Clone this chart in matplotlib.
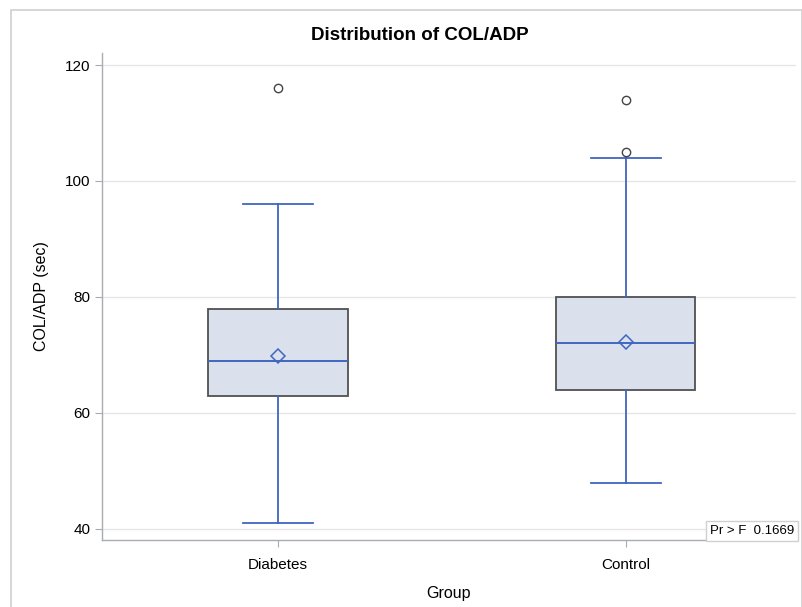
import matplotlib
matplotlib.use("Agg")
import matplotlib.pyplot as plt
from matplotlib.patches import Rectangle

plt.rcParams['font.family'] = ['Liberation Sans', 'DejaVu Sans']

groups = ["Diabetes", "Control"]
whislo = [41, 48]
q1 = [63, 64]
med = [69, 72]
mean = [69.9, 72.3]
q3 = [78, 80]
whishi = [96, 104]
fliers = [[116], [105, 114]]
p_value = "0.1669"

blue = "#3F66C2"
fig = plt.figure(figsize=(8.03, 6.07), dpi=100)
fig.patches.append(Rectangle((11.5/803, -0.1), (802-11.5)/803, 1.1 - 10/607,
                             transform=fig.transFigure, fill=False,
                             edgecolor="#D0D0D0", linewidth=1.2))
ax = fig.add_axes([102/803, 1-540/607, 694/803, (540-53)/607])

stats = []
for i, g in enumerate(groups):
    stats.append(dict(label=g, whislo=whislo[i], q1=q1[i], med=med[i], mean=mean[i],
                      q3=q3[i], whishi=whishi[i], fliers=fliers[i]))

ax.bxp(stats, positions=[0, 1], widths=0.40, showmeans=True, patch_artist=True,
       boxprops=dict(facecolor="#DAE1EC", edgecolor="#505050", linewidth=1.3),
       medianprops=dict(color=blue, linewidth=1.4),
       whiskerprops=dict(color=blue, linewidth=1.3),
       capprops=dict(color=blue, linewidth=1.3),
       capwidths=0.20,
       meanprops=dict(marker="D", markerfacecolor="none", markeredgecolor=blue,
                      markersize=7.5, markeredgewidth=1.1),
       flierprops=dict(marker="o", markerfacecolor="none", markeredgecolor="#444444",
                       markersize=6, markeredgewidth=1.0),
       zorder=3)

ax.set_xlim(-0.506, 1.489)
ax.set_ylim(38.1, 122.07)
ax.set_yticks([40, 60, 80, 100, 120])
ax.yaxis.grid(True, color="#E6E6E6", linewidth=1.0, zorder=0)
ax.set_axisbelow(True)
for s in ["top", "right"]:
    ax.spines[s].set_visible(False)
for s in ["left", "bottom"]:
    ax.spines[s].set_color("#A8ACB0")
    ax.spines[s].set_linewidth(1.0)
ax.tick_params(axis="both", colors="#A8ACB0", labelcolor="black", labelsize=11, length=5)
ax.tick_params(axis="x", pad=8)
ax.set_xticks([0, 1])
ax.set_xticklabels(groups)
ax.set_xlabel("Group", fontsize=11.5, labelpad=10)
ax.set_ylabel("COL/ADP (sec)", fontsize=11.5, labelpad=11)

fig.text(420/803, 1-35/607, "Distribution of COL/ADP", ha="center", va="center",
         fontsize=13.5, fontweight="bold")

ax.text(0.997, 0.006, "Pr > F  " + p_value, transform=ax.transAxes, ha="right", va="bottom",
        fontsize=9.5, bbox=dict(boxstyle="square,pad=0.3", facecolor="white",
                                edgecolor="#D0D0D0", linewidth=1.0), zorder=5)

fig.savefig("out.png", dpi=100)
